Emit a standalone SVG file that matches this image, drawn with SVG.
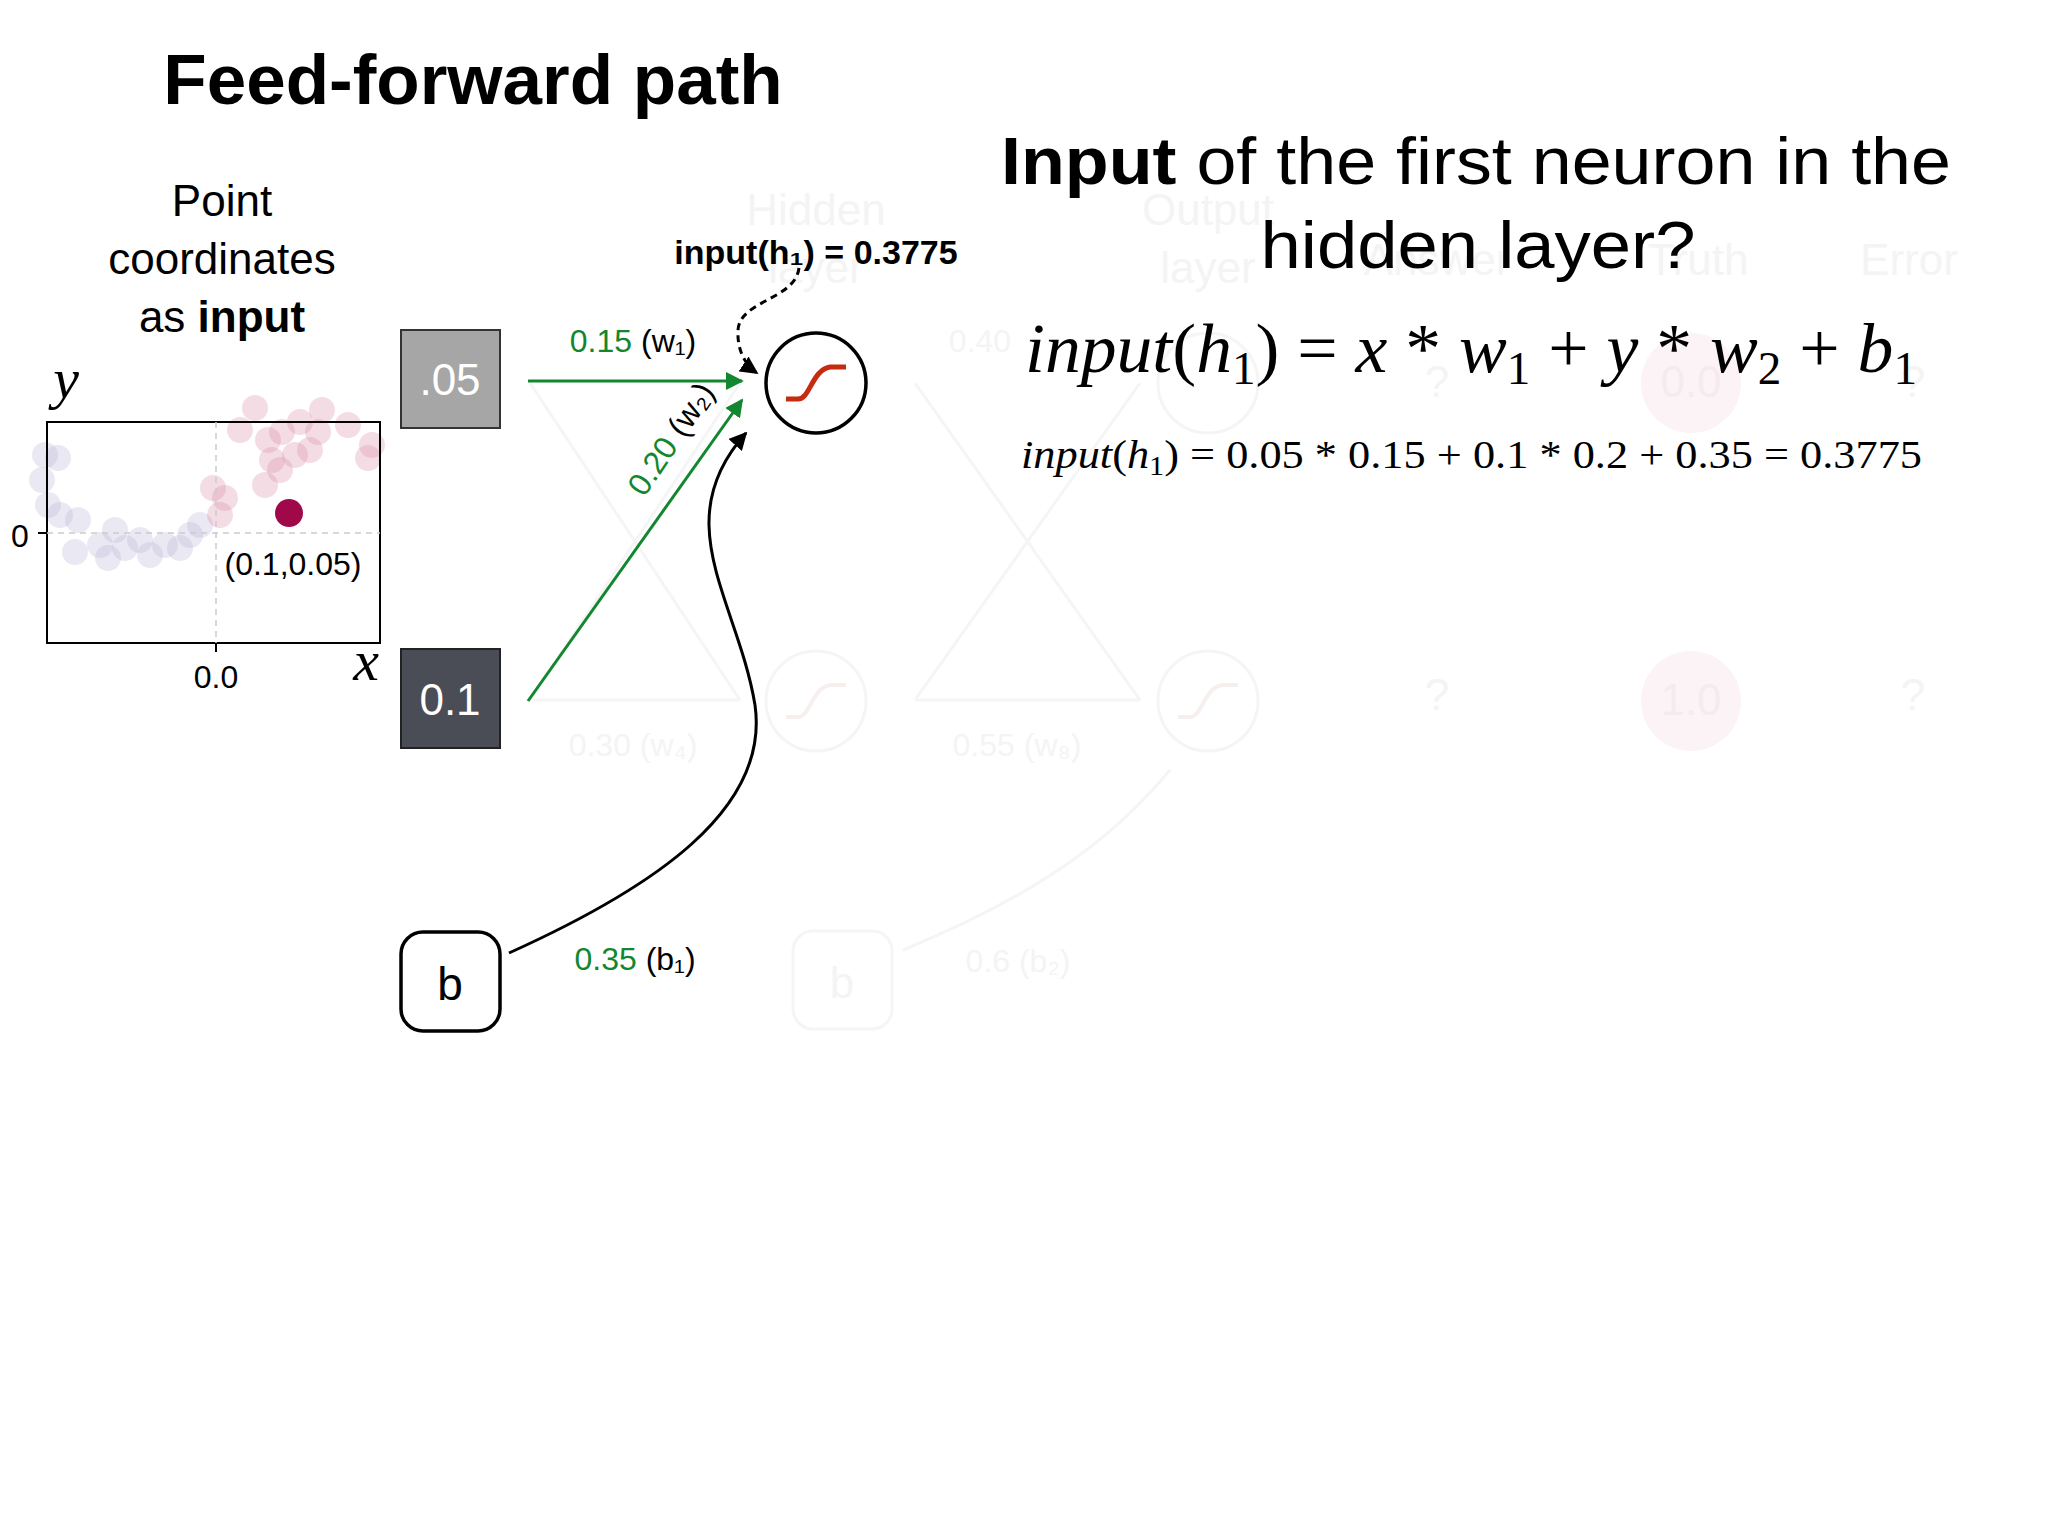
<svg xmlns="http://www.w3.org/2000/svg" width="2048" height="1536" viewBox="0 0 2048 1536">
<style>
.s{font-family:"Liberation Sans",Arial,sans-serif}
.m{font-family:"Liberation Serif","Times New Roman",serif;font-style:italic}
.g{fill:#12872f}
.f{fill:#f4f4f4;font-family:"Liberation Sans",Arial,sans-serif;font-size:44px;text-anchor:middle}
.fl{stroke:#f5f5f5;stroke-width:3;fill:none}
.pu{fill:#b8b4d4;opacity:.3}
.pk{fill:#d98aa5;opacity:.3}
</style>
<defs>
<marker id="ag" viewBox="0 0 10 10" refX="9" refY="5" markerWidth="6" markerHeight="6" orient="auto"><path d="M0,0 L10,5 L0,10 z" fill="#12872f"/></marker>
<marker id="ak" viewBox="0 0 10 10" refX="9" refY="5" markerWidth="6" markerHeight="6" orient="auto"><path d="M0,0 L10,5 L0,10 z" fill="#000"/></marker>
</defs>
<rect width="2048" height="1536" fill="#fff"/>
<g id="faint">
<text class="f" x="816" y="225">Hidden</text><text class="f" x="816" y="283">layer</text>
<text class="f" x="1208" y="225">Output</text><text class="f" x="1208" y="283">layer</text>
<text class="f" x="1437" y="275">Answer</text><text class="f" x="1698" y="275">Truth</text><text class="f" x="1909" y="275">Error</text>
<circle class="fl" cx="816" cy="701" r="50"/><circle class="fl" cx="1208" cy="383" r="50"/><circle class="fl" cx="1208" cy="701" r="50"/>
<path d="M786,717 H798 C810,717 812,688 830,685 H846 M1178,717 H1190 C1202,717 1204,688 1222,685 H1238" stroke="#f7eeee" stroke-width="4" fill="none"/>
<circle cx="1691" cy="383" r="50" fill="#fcf3f6"/><circle cx="1691" cy="701" r="50" fill="#fcf3f6"/>
<text class="f" x="1691" y="397" style="fill:#f7eaee">0.0</text><text class="f" x="1691" y="715" style="fill:#f7eaee">1.0</text>
<text class="f" x="1437" y="397">?</text><text class="f" x="1437" y="710">?</text><text class="f" x="1913" y="397">?</text><text class="f" x="1913" y="710">?</text>
<rect class="fl" x="793" y="931" width="99" height="98" rx="20"/><text class="f" x="842" y="998">b</text>
<text class="f" x="1018" y="972" style="font-size:32px">0.6 (b₂)</text>
<text class="f" x="633" y="756" style="font-size:32px">0.30 (w₄)</text>
<text class="f" x="1017" y="756" style="font-size:32px">0.55 (w₈)</text>
<text class="f" x="980" y="352" style="font-size:32px">0.40</text>
<path class="fl" d="M530,383 L740,700 M530,700 L740,383 M915,383 L1140,700 M915,700 L1140,383 M915,700 L1140,700 M530,700 L740,700 M903,950 C1050,890 1120,830 1170,770"/>
</g>
<g id="title"><text class="s" x="473" y="104" font-size="71" font-weight="bold" text-anchor="middle">Feed-forward path</text></g>
<g id="caption" class="s" font-size="44" text-anchor="middle">
<text x="222" y="216">Point</text><text x="222" y="274">coordinates</text><text x="222" y="332">as <tspan font-weight="bold">input</tspan></text>
</g>
<g id="plot">
<circle class="pu" cx="45" cy="455" r="13"/><circle class="pu" cx="58" cy="458" r="13"/><circle class="pu" cx="42" cy="480" r="13"/><circle class="pu" cx="48" cy="505" r="13"/><circle class="pu" cx="60" cy="515" r="13"/><circle class="pu" cx="78" cy="520" r="13"/><circle class="pu" cx="75" cy="552" r="13"/><circle class="pu" cx="100" cy="545" r="13"/><circle class="pu" cx="115" cy="530" r="13"/><circle class="pu" cx="125" cy="548" r="13"/><circle class="pu" cx="140" cy="540" r="13"/><circle class="pu" cx="150" cy="555" r="13"/><circle class="pu" cx="165" cy="545" r="13"/><circle class="pu" cx="180" cy="548" r="13"/><circle class="pu" cx="190" cy="535" r="13"/><circle class="pu" cx="200" cy="525" r="13"/><circle class="pu" cx="108" cy="558" r="13"/>
<circle class="pk" cx="213" cy="488" r="13"/><circle class="pk" cx="225" cy="498" r="13"/><circle class="pk" cx="220" cy="515" r="13"/><circle class="pk" cx="240" cy="430" r="13"/><circle class="pk" cx="255" cy="408" r="13"/><circle class="pk" cx="268" cy="440" r="13"/><circle class="pk" cx="272" cy="460" r="13"/><circle class="pk" cx="280" cy="470" r="13"/><circle class="pk" cx="265" cy="485" r="13"/><circle class="pk" cx="282" cy="432" r="13"/><circle class="pk" cx="300" cy="422" r="13"/><circle class="pk" cx="318" cy="432" r="13"/><circle class="pk" cx="322" cy="410" r="13"/><circle class="pk" cx="348" cy="425" r="13"/><circle class="pk" cx="368" cy="458" r="13"/><circle class="pk" cx="372" cy="445" r="13"/><circle class="pk" cx="295" cy="455" r="13"/><circle class="pk" cx="310" cy="450" r="13"/>
<rect x="47" y="422" width="333" height="221" fill="none" stroke="#000" stroke-width="2"/>
<path d="M216,422 V643 M47,533 H380" stroke="#ccc" stroke-width="1.5" stroke-dasharray="6,5"/>
<path d="M216,643 V652 M38,533 H47" stroke="#000" stroke-width="2"/>
<circle cx="289" cy="513" r="14" fill="#a0084a"/>
<text class="s" x="20" y="547" font-size="32" text-anchor="middle">0</text>
<text class="s" x="216" y="688" font-size="32" text-anchor="middle">0.0</text>
<text class="s" x="293" y="575" font-size="32" text-anchor="middle">(0.1,0.05)</text>
<text class="m" x="66" y="398" font-size="58" text-anchor="middle">y</text>
<text class="m" x="366" y="680" font-size="58" text-anchor="middle">x</text>
</g>
<g id="node-y"><rect x="401" y="330" width="99" height="98" fill="#a6a6a6" stroke="#333" stroke-width="2"/><text class="s" x="450" y="395" font-size="44" fill="#fff" text-anchor="middle">.05</text></g>
<g id="node-x"><rect x="401" y="649" width="99" height="99" fill="#4a4d55" stroke="#222" stroke-width="2"/><text class="s" x="450" y="715" font-size="44" fill="#fff" text-anchor="middle">0.1</text></g>
<g id="node-b"><rect x="401" y="932" width="99" height="99" rx="22" fill="#fff" stroke="#000" stroke-width="3.5"/><text class="s" x="450" y="1000" font-size="46" text-anchor="middle">b</text></g>
<g id="node-h1"><circle cx="816" cy="383" r="50" fill="#fff" stroke="#000" stroke-width="3.5"/><path d="M786,399 H798 C810,399 812,370 830,367 H846" fill="none" stroke="#c62a0f" stroke-width="5"/></g>
<g id="connectors">
<path d="M528,381 H742" stroke="#12872f" stroke-width="3" fill="none" marker-end="url(#ag)"/>
<path d="M528,701 L742,400" stroke="#12872f" stroke-width="3" fill="none" marker-end="url(#ag)"/>
<path d="M509,953 C653,888 770,810 755,705 C738,601 666,522 746,433" stroke="#000" stroke-width="3" fill="none" marker-end="url(#ak)"/>
<path d="M799,268 C795,300 740,300 738,330 C737,350 745,365 757,373" stroke="#000" stroke-width="3" stroke-dasharray="7,5" fill="none" marker-end="url(#ak)"/>
</g>
<g id="labels" class="s" font-size="32">
<text x="633" y="352" text-anchor="middle"><tspan class="g">0.15</tspan> (w₁)</text>
<text x="635" y="970" text-anchor="middle"><tspan class="g">0.35</tspan> (b₁)</text>
<text transform="translate(680,445) rotate(-56)" text-anchor="middle"><tspan class="g">0.20</tspan> (w₂)</text>
<text x="816" y="264" font-size="34" font-weight="bold" text-anchor="middle">input(h₁) = 0.3775</text>
</g>
<g id="question" class="s" font-size="66" text-anchor="middle">
<text x="1476" y="184" textLength="950" lengthAdjust="spacingAndGlyphs"><tspan font-weight="bold">Input</tspan> of the first neuron in the</text>
<text x="1478" y="268" textLength="435" lengthAdjust="spacingAndGlyphs">hidden layer?</text>
</g>
<g id="formulas">
<text x="1025" y="372" font-family="Liberation Serif,serif" font-size="70" textLength="892" lengthAdjust="spacingAndGlyphs"><tspan font-style="italic">input</tspan>(<tspan font-style="italic">h</tspan><tspan font-size="46" dy="12">1</tspan><tspan dy="-12">) = </tspan><tspan font-style="italic">x</tspan> * <tspan font-style="italic">w</tspan><tspan font-size="46" dy="12">1</tspan><tspan dy="-12"> + </tspan><tspan font-style="italic">y</tspan> * <tspan font-style="italic">w</tspan><tspan font-size="46" dy="12">2</tspan><tspan dy="-12"> + </tspan><tspan font-style="italic">b</tspan><tspan font-size="46" dy="12">1</tspan></text>
<text x="1021" y="468" font-family="Liberation Serif,serif" font-size="41" textLength="901" lengthAdjust="spacingAndGlyphs"><tspan font-style="italic">input</tspan>(<tspan font-style="italic">h</tspan><tspan font-size="28" dy="7">1</tspan><tspan dy="-7">) = 0.05 * 0.15 + 0.1 * 0.2 + 0.35 = 0.3775</tspan></text>
</g>
</svg>
